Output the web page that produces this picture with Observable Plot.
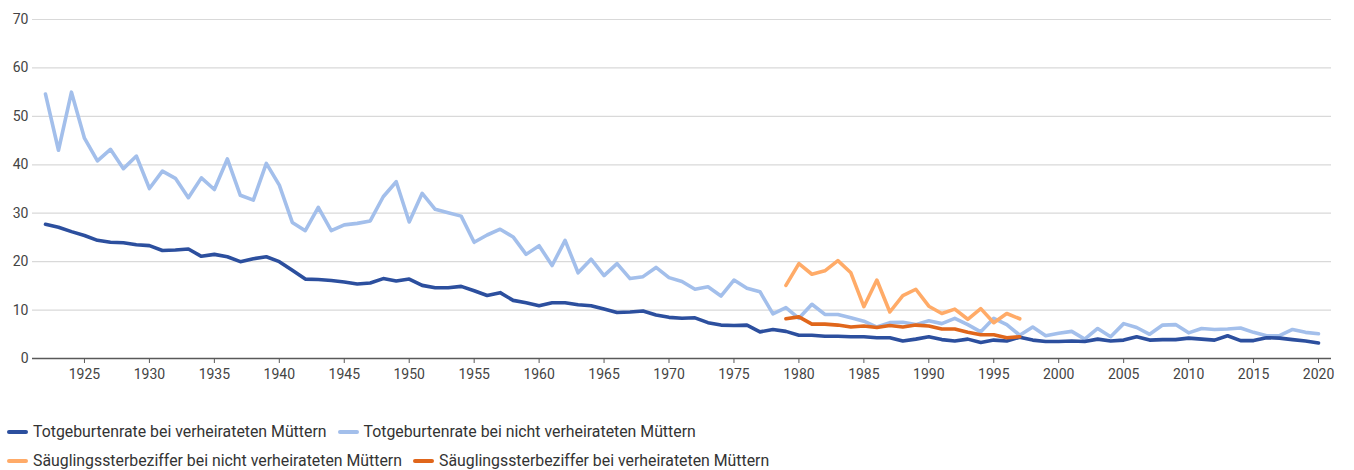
<!DOCTYPE html>
<html>
<head>
<meta charset="utf-8">
<script src="https://cdn.jsdelivr.net/npm/d3@7"></script>
<script src="https://cdn.jsdelivr.net/npm/@observablehq/plot@0.6"></script>
<style>
  body { margin: 0; background: #fff; font-family: Roboto, "Noto Sans", sans-serif; }
  #chart svg { display: block; }
  .legend { font-family: Roboto, sans-serif; font-size: 15.85px; color: #333; }
  .row { display: flex; align-items: center; height: 29px; }
  .item { display: flex; align-items: center; margin-right: 4px; }
  .sw { display: inline-block; width: 21px; height: 4px; border-radius: 2px; margin-left: 7px; margin-right: 5px; }
</style>
</head>
<body>
<div id="chart"></div>
<div class="legend" id="legend"></div>
<script>
const years = d3.range(1922, 2021);

// Totgeburtenrate bei verheirateten Müttern (1922–2020)
const stillMarried = [
  27.7, 27.1, 26.2, 25.4, 24.4, 24.0, 23.9, 23.5, 23.3, 22.3,
  22.4, 22.6, 21.1, 21.5, 21.0, 20.0, 20.6, 21.0, 20.0, 18.2,
  16.4, 16.3, 16.1, 15.8, 15.4, 15.6, 16.5, 16.0, 16.4, 15.1,
  14.6, 14.6, 14.9, 14.0, 13.0, 13.6, 12.0, 11.5, 10.9, 11.5,
  11.5, 11.1, 10.9, 10.2, 9.5, 9.6, 9.8, 9.0, 8.5, 8.3,
  8.4, 7.4, 6.9, 6.8, 6.9, 5.5, 6.0, 5.6, 4.8, 4.8,
  4.6, 4.6, 4.5, 4.5, 4.3, 4.3, 3.6, 4.0, 4.5, 3.9,
  3.6, 4.0, 3.3, 3.8, 3.6, 4.4, 3.8, 3.5, 3.5, 3.6,
  3.5, 4.0, 3.6, 3.8, 4.5, 3.8, 3.9, 3.9, 4.2, 4.0,
  3.8, 4.7, 3.7, 3.7, 4.3, 4.2, 3.9, 3.6, 3.2
];

// Totgeburtenrate bei nicht verheirateten Müttern (1922–2020)
const stillUnmarried = [
  54.6, 43.0, 55.0, 45.5, 40.8, 43.2, 39.2, 41.8, 35.1, 38.7,
  37.2, 33.2, 37.3, 34.9, 41.2, 33.7, 32.7, 40.3, 35.8, 28.1,
  26.4, 31.2, 26.4, 27.6, 27.9, 28.4, 33.4, 36.5, 28.2, 34.1,
  30.8, 30.1, 29.4, 24.0, 25.5, 26.7, 25.1, 21.5, 23.3, 19.2,
  24.4, 17.7, 20.5, 17.1, 19.6, 16.5, 16.9, 18.8, 16.7, 15.9,
  14.3, 14.8, 12.9, 16.2, 14.5, 13.8, 9.2, 10.5, 8.3, 11.2,
  9.1, 9.1, 8.4, 7.7, 6.5, 7.4, 7.5, 7.0, 7.8, 7.2,
  8.3, 7.0, 5.5, 8.3, 7.0, 4.8, 6.5, 4.7, 5.2, 5.6,
  4.0, 6.2, 4.5, 7.2, 6.4, 5.0, 6.9, 7.0, 5.3, 6.2,
  6.0, 6.1, 6.3, 5.4, 4.7, 4.7, 6.0, 5.4, 5.1
];

// Säuglingssterbeziffer (1979–1997)
const infantYears = d3.range(1979, 1998);
const infantUnmarried = [
  15.1, 19.6, 17.4, 18.1, 20.2, 17.7, 10.7, 16.2, 9.6, 13.0,
  14.3, 10.8, 9.3, 10.2, 8.1, 10.3, 7.4, 9.3, 8.2
];
const infantMarried = [
  8.2, 8.6, 7.1, 7.1, 6.9, 6.5, 6.7, 6.4, 6.8, 6.5,
  6.9, 6.7, 6.1, 6.1, 5.4, 4.9, 4.9, 4.3, 4.5
];

const seriesNames = [
  "Totgeburtenrate bei verheirateten Müttern",
  "Totgeburtenrate bei nicht verheirateten Müttern",
  "Säuglingssterbeziffer bei nicht verheirateten Müttern",
  "Säuglingssterbeziffer bei verheirateten Müttern"
];
const seriesColors = ["#2C4F9E", "#A3BFEB", "#FFAB68", "#E0661B"];
const yTicks = [0, 10, 20, 30, 40, 50, 60, 70];
const xTicks = d3.range(1925, 2021, 5);

const toRows = (xs, vs) => xs.map((x, i) => ({year: x, value: vs[i]}));
const dMarried = toRows(years, stillMarried);
const dUnmarried = toRows(years, stillUnmarried);
const dInfU = toRows(infantYears, infantUnmarried);
const dInfM = toRows(infantYears, infantMarried);

const lineOpts = (color) => ({x: "year", y: "value", stroke: color, strokeWidth: 3.6, strokeLinejoin: "round", strokeLinecap: "round"});

const chart = Plot.plot({
  width: 1354,
  height: 392,
  marginTop: 19,
  marginBottom: 34,
  marginLeft: 32,
  marginRight: 23,
  style: {fontFamily: "Roboto, sans-serif", fontSize: "14px", color: "#444", background: "#fff"},
  x: {domain: [1921, 2021], ticks: xTicks, tickFormat: d => String(d), tickSize: 5, tickPadding: 6, label: null},
  y: {domain: [0, 70], ticks: yTicks, tickSize: 0, tickPadding: 4, label: null},
  marks: [
    Plot.gridY(yTicks.filter(t => t > 0), {stroke: "#d9d9d9", strokeOpacity: 1, strokeWidth: 1.2}),
    Plot.axisY({ticks: yTicks, tickSize: 0, tickPadding: 4, label: null, fill: "#444"}),
    Plot.axisX({ticks: xTicks, tickFormat: d => String(d), tickSize: 5, tickPadding: 6, label: null, stroke: "#595959", fill: "#444"}),
    Plot.ruleY([0], {stroke: "#595959", strokeWidth: 1.3}),
    Plot.line(dUnmarried, lineOpts(seriesColors[1])),
    Plot.line(dMarried, lineOpts(seriesColors[0])),
    Plot.line(dInfU, lineOpts(seriesColors[2])),
    Plot.line(dInfM, lineOpts(seriesColors[3]))
  ]
});
document.getElementById("chart").appendChild(chart);

// Legend
const legend = document.getElementById("legend");
const rows = [[0, 1], [2, 3]];
legend.style.marginTop = "25px";
rows.forEach(r => {
  const row = document.createElement("div");
  row.className = "row";
  r.forEach(i => {
    const item = document.createElement("div");
    item.className = "item";
    const sw = document.createElement("span");
    sw.className = "sw";
    sw.style.background = seriesColors[i];
    const t = document.createElement("span");
    t.textContent = seriesNames[i];
    item.appendChild(sw);
    item.appendChild(t);
    row.appendChild(item);
  });
  legend.appendChild(row);
});
</script>
</body>
</html>
